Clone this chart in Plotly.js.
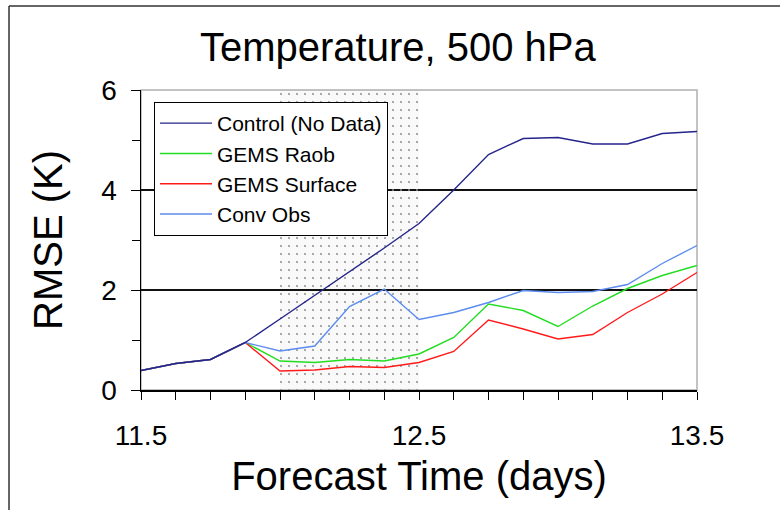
<!DOCTYPE html>
<html>
<head>
<meta charset="utf-8">
<script src="https://cdn.plot.ly/plotly-3.0.1.min.js"></script>
<style>
  html, body { margin: 0; padding: 0; background: #ffffff; }
  #chart { width: 780px; height: 510px; }
</style>
</head>
<body>
<div id="chart"></div>
<script>
// Forecast time (days) of each verification point
var forecastDays = [11.5, 11.625, 11.75, 11.875, 12.0, 12.125, 12.25, 12.375, 12.5,
                    12.625, 12.75, 12.875, 13.0, 13.125, 13.25, 13.375, 13.5];

// RMSE (K) per experiment
var controlNoData = [0.39, 0.53, 0.61, 0.95, 1.42, 1.89, 2.37, 2.84, 3.33, 4.00, 4.71, 5.03, 5.05, 4.92, 4.92, 5.13, 5.17];
var gemsRaob      = [0.39, 0.53, 0.61, 0.95, 0.58, 0.55, 0.61, 0.58, 0.72, 1.05, 1.72, 1.59, 1.27, 1.68, 2.03, 2.29, 2.49];
var gemsSurface   = [0.39, 0.53, 0.61, 0.95, 0.38, 0.40, 0.47, 0.45, 0.55, 0.77, 1.40, 1.22, 1.02, 1.11, 1.55, 1.92, 2.35];
var convObs       = [0.39, 0.53, 0.61, 0.95, 0.78, 0.88, 1.67, 2.02, 1.41, 1.55, 1.75, 1.99, 1.95, 1.97, 2.11, 2.53, 2.89];

var seriesNames = ["Control (No Data)", "GEMS Raob", "GEMS Surface", "Conv Obs"];

// Data-assimilation window (shaded)
var windowDays = [12.0, 12.5];
var yRange = [0, 6];

// Axis ticks
var xTickVals = [11.5, 12.5, 13.5];
var xTickText = ["11.5", "12.5", "13.5"];
var yTickVals = [0, 2, 4, 6];
var yTickText = ["0", "2", "4", "6"];

var FONT = "Liberation Sans, Arial, Helvetica, sans-serif";

var shade = {
  x: [windowDays[0], windowDays[1], windowDays[1], windowDays[0], windowDays[0]],
  y: [yRange[0], yRange[0], yRange[1], yRange[1], yRange[0]],
  mode: "lines",
  fill: "toself",
  line: { width: 0, color: "rgba(0,0,0,0)" },
  fillcolor: "rgba(0,0,0,0.025)",
  fillpattern: { shape: ".", fgcolor: "#8c8c8c", bgcolor: "rgba(0,0,0,0.025)", size: 8, solidity: 0.05 },
  hoverinfo: "skip",
  showlegend: false
};

function lineTrace(y, name, color, rank) {
  return {
    x: forecastDays, y: y, name: name, mode: "lines",
    line: { color: color, width: 1.4 },
    legendrank: rank
  };
}

var traces = [
  shade,
  lineTrace(gemsRaob, seriesNames[1], "#22dd22", 2),
  lineTrace(gemsSurface, seriesNames[2], "#ff1a1a", 3),
  lineTrace(convObs, seriesNames[3], "#5b8cf0", 4),
  lineTrace(controlNoData, seriesNames[0], "#24248a", 1)
];

var layout = {
  width: 780, height: 510,
  margin: { l: 141, r: 83, t: 90, b: 120, pad: 0 },
  paper_bgcolor: "#ffffff", plot_bgcolor: "#ffffff",
  font: { family: FONT, color: "#000000" },
  title: {
    text: "Temperature, 500 hPa",
    font: { family: FONT, size: 40, color: "#000000" },
    xref: "container", x: 0.51, xanchor: "center",
    yref: "container", y: 0.907, yanchor: "middle"
  },
  showlegend: true,
  legend: {
    x: 0.0234, y: 0.96, xanchor: "left", yanchor: "top",
    bgcolor: "#ffffff", bordercolor: "#000000", borderwidth: 1,
    font: { family: FONT, size: 21, color: "#000000" },
    traceorder: "normal", itemwidth: 52
  },
  xaxis: {
    range: [11.5, 13.5],
    tickmode: "array", tickvals: xTickVals, ticktext: xTickText,
    ticks: "outside", ticklen: 8, tickwidth: 1, tickcolor: "#000000",
    tickfont: { family: FONT, size: 28, color: "#000000" },
    ticklabelstandoff: 12,
    minor: { dtick: 0.125, tick0: 11.5, ticks: "outside", ticklen: 8, tickcolor: "#000000", tickwidth: 1, showgrid: false },
    showline: true, linecolor: "#000000", linewidth: 1.5,
    showgrid: false, zeroline: false,
    title: { text: "Forecast Time (days)", font: { family: FONT, size: 40, color: "#000000" }, standoff: 12 }
  },
  yaxis: {
    range: yRange,
    tickmode: "array", tickvals: yTickVals, ticktext: yTickText,
    ticks: "outside", ticklen: 9, tickwidth: 1, tickcolor: "#000000",
    tickfont: { family: FONT, size: 28, color: "#000000" },
    ticklabelstandoff: 8,
    minor: { dtick: 1, tick0: 0, ticks: "outside", ticklen: 8, tickcolor: "#000000", tickwidth: 1, showgrid: false },
    showline: true, linecolor: "#000000", linewidth: 1.5,
    showgrid: true, gridcolor: "#111111", gridwidth: 1.2,
    zeroline: false,
    title: { text: "RMSE (K)", font: { family: FONT, size: 40, color: "#000000" }, standoff: 26 }
  },
  shapes: [
    // light grey frame of the plotting area (top / right)
    { type: "rect", xref: "paper", yref: "paper", x0: 0, x1: 1, y0: 0, y1: 1,
      line: { color: "#b0b0b0", width: 1.5 }, fillcolor: "rgba(0,0,0,0)", layer: "below" },
    // outer frame of the cropped figure (top and left edges)
    { type: "line", xref: "paper", yref: "paper", x0: -0.2374, x1: 1.16, y0: 1.28, y1: 1.28,
      line: { color: "#333333", width: 1.5 } },
    { type: "line", xref: "paper", yref: "paper", x0: -0.2374, x1: -0.2374, y0: 1.28, y1: -0.42,
      line: { color: "#333333", width: 1.5 } }
  ]
};

Plotly.newPlot("chart", traces, layout, { displayModeBar: false, staticPlot: true });
</script>
</body>
</html>
